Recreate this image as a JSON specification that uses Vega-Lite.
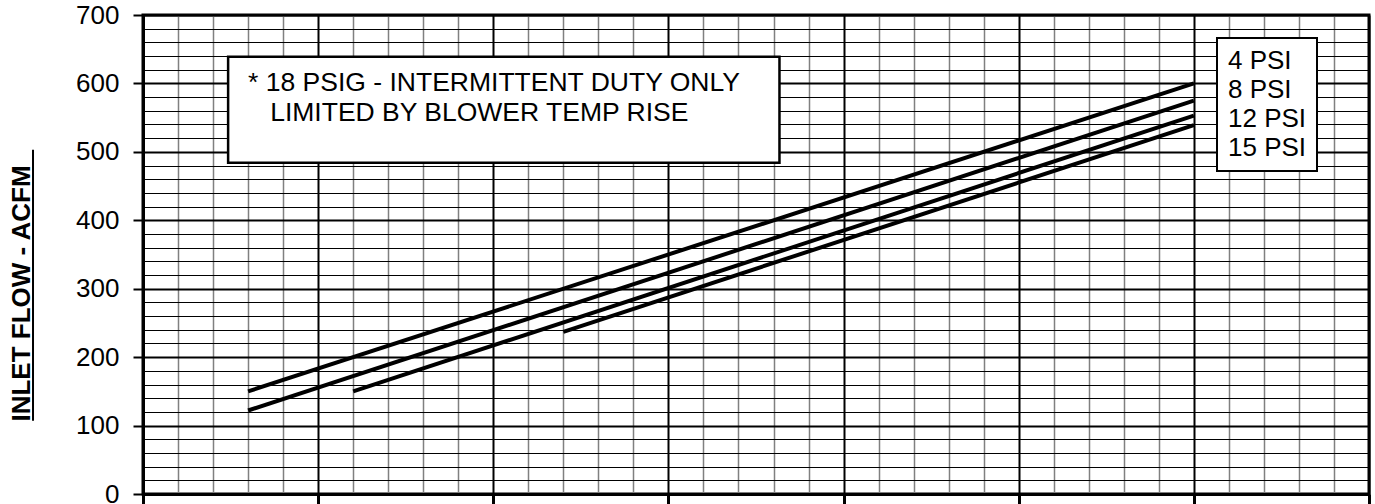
{
  "$schema": "https://vega.github.io/schema/vega-lite/v6.json",
  "width": 1226,
  "height": 479,
  "autosize": {"type": "none"},
  "padding": {"left": 143, "top": 15, "right": 6, "bottom": 10},
  "config": {
    "font": "Liberation Sans",
    "view": {"stroke": "black", "strokeWidth": 3}
  },
  "encoding": {
    "x": {
      "field": "speed", "type": "quantitative",
      "scale": {"domain": [0, 3500], "nice": false, "zero": false},
      "axis": {
        "title": null,
        "values": [0,100,200,300,400,500,600,700,800,900,1000,1100,1200,1300,1400,1500,1600,1700,1800,1900,2000,2100,2200,2300,2400,2500,2600,2700,2800,2900,3000,3100,3200,3300,3400,3500],
        "labels": false,
        "grid": true,
        "gridColor": {"condition": {"test": "datum.value % 500 === 0", "value": "black"}, "value": "#808080"},
        "gridWidth": {"condition": {"test": "datum.value % 500 === 0", "value": 2}, "value": 1.5},
        "gridOpacity": 1,
        "ticks": true,
        "tickColor": "black",
        "tickSize": 10,
        "tickWidth": 3,
        "tickOpacity": {"condition": {"test": "datum.value % 500 === 0", "value": 1}, "value": 0},
        "domain": true,
        "domainColor": "black",
        "domainWidth": 3
      }
    },
    "y": {
      "field": "flow", "type": "quantitative",
      "scale": {"domain": [0, 700], "nice": false, "zero": false},
      "axis": {
        "title": "INLET FLOW - ACFM",
        "titleFont": "Liberation Sans",
        "titleFontSize": 26,
        "titleFontWeight": "bold",
        "titleColor": "black",
        "titleAngle": -90,
        "titleX": -122,
        "titleY": 278,
        "titleAlign": "center",
        "titleBaseline": "middle",
        "values": [0,20,40,60,80,100,120,140,160,180,200,220,240,260,280,300,320,340,360,380,400,420,440,460,480,500,520,540,560,580,600,620,640,660,680,700],
        "labelExpr": "datum.value % 100 === 0 ? datum.label : ''",
        "labelFontSize": 26,
        "labelColor": "black",
        "labelPadding": 14,
        "labelOverlap": false,
        "labelFlush": false,
        "labelBound": false,
        "grid": true,
        "gridColor": "black",
        "gridWidth": {"condition": {"test": "datum.value % 100 === 0", "value": 2}, "value": 1},
        "gridOpacity": 1,
        "ticks": true,
        "tickColor": "black",
        "tickSize": 10,
        "tickWidth": 2,
        "tickOpacity": {"condition": {"test": "datum.value % 100 === 0", "value": 1}, "value": 0},
        "domain": true,
        "domainColor": "black",
        "domainWidth": 3
      }
    }
  },
  "layer": [
    {
      "data": {"values": [
        {"pressure": "4 PSI", "speed": 300, "flow": 150},
        {"pressure": "4 PSI", "speed": 3000, "flow": 600},
        {"pressure": "8 PSI", "speed": 300, "flow": 122},
        {"pressure": "8 PSI", "speed": 3000, "flow": 575},
        {"pressure": "12 PSI", "speed": 600, "flow": 150},
        {"pressure": "12 PSI", "speed": 3000, "flow": 553},
        {"pressure": "15 PSI", "speed": 1200, "flow": 237},
        {"pressure": "15 PSI", "speed": 3000, "flow": 539}
      ]},
      "mark": {"type": "line", "strokeWidth": 4, "strokeCap": "butt"},
      "encoding": {
        "color": {
          "field": "pressure", "type": "nominal",
          "scale": {"domain": ["4 PSI", "8 PSI", "12 PSI", "15 PSI"], "range": ["black", "black", "black", "black"]},
          "legend": {
            "orient": "none",
            "legendX": 1074,
            "legendY": 23,
            "title": null,
            "fillColor": "white",
            "strokeColor": "black",
            "padding": 10,
            "labelFont": "Liberation Sans",
            "labelFontSize": 26,
            "labelColor": "black",
            "labelOffset": -25,
            "labelLimit": 300,
            "symbolSize": 0,
            "symbolOpacity": 0,
            "symbolStrokeWidth": 0,
            "rowPadding": 3,
            "encode": {"legend": {"update": {"strokeWidth": {"value": 2}}}}
          }
        }
      }
    },
    {
      "data": {"values": [{"speed": -314, "flow": 503, "flow2": 107}]},
      "mark": {"type": "rule", "strokeWidth": 2, "color": "black", "clip": false},
      "encoding": {
        "y2": {"field": "flow2"}
      }
    },
    {
      "data": {"values": [{"speed": 243, "speed2": 1817, "flow": 639, "flow2": 484}]},
      "mark": {"type": "rect", "fill": "white", "stroke": "black", "strokeWidth": 2.5},
      "encoding": {
        "x2": {"field": "speed2"},
        "y2": {"field": "flow2"}
      }
    },
    {
      "data": {"values": [
        {"speed": 300, "flow": 600, "note": "* 18 PSIG - INTERMITTENT DUTY ONLY"},
        {"speed": 363, "flow": 557, "note": "LIMITED BY BLOWER TEMP RISE"}
      ]},
      "mark": {"type": "text", "align": "left", "baseline": "middle", "fontSize": 26.5, "font": "Liberation Sans", "color": "black"},
      "encoding": {
        "text": {"field": "note"}
      }
    }
  ]
}
